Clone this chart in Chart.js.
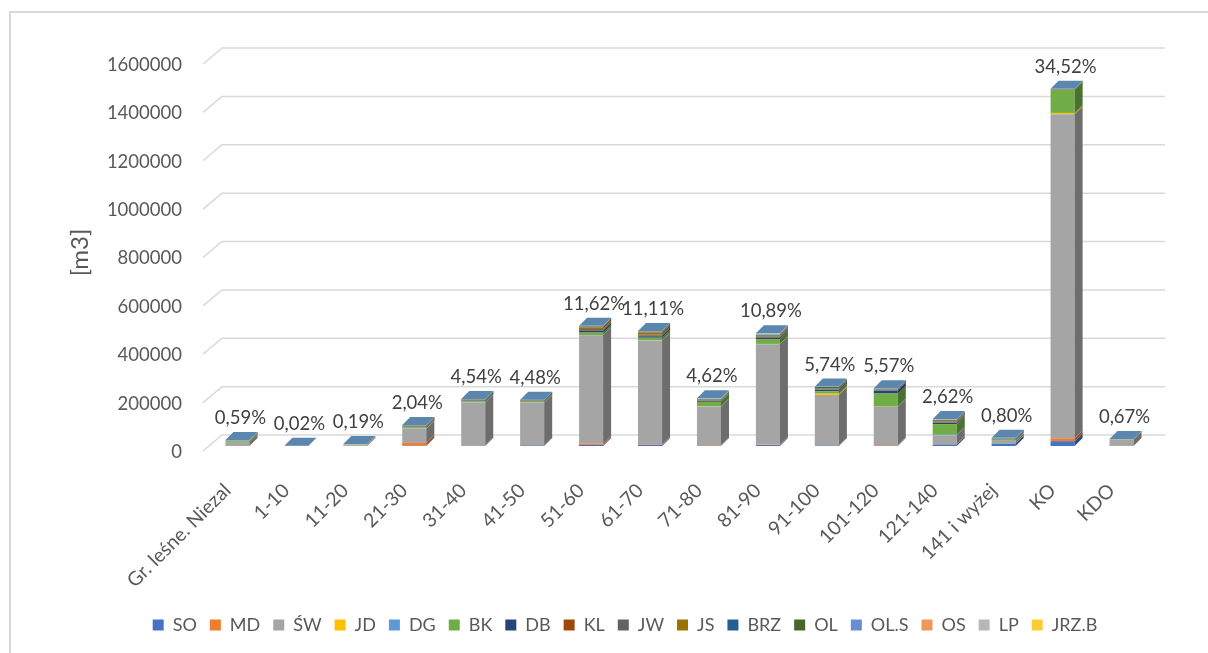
<!DOCTYPE html>
<html>
<head>
<meta charset="utf-8">
<title>Miąższość wg klas wieku</title>
<script src="https://cdn.jsdelivr.net/npm/chart.js@4.4.1/dist/chart.umd.min.js"></script>
<style>
    html, body { margin: 0; padding: 0; background: #fff; overflow: hidden; }
    .wrap { position: relative; width: 1208px; height: 653px; }
    .ramka { position: absolute; left: 9px; top: 11px; width: 1400px; height: 900px;
             border: 2px solid #D9D9D9; pointer-events: none; }
</style>
</head>
<body>
<div class="wrap">
    <canvas id="wykres"></canvas>
    <div class="ramka"></div>
</div>

<script>
    var kategorie = ['Gr. leśne. Niezal', '1-10', '11-20', '21-30', '31-40', '41-50', '51-60', '61-70',
        '71-80', '81-90', '91-100', '101-120', '121-140', '141 i wyżej', 'KO', 'KDO'];

    // miąższość [m3] wg gatunków
    var SO  = [300, 200, 300, 800, 1500, 2500, 4500, 4500, 1000, 4000, 2000, 1000, 6000, 10000, 20000, 300];
    var MD  = [200, 0, 600, 12000, 1500, 1000, 6000, 2000, 2500, 2000, 500, 3000, 2000, 1000, 12000, 200];
    var SW  = [13000, 400, 4500, 59000, 176500, 176000, 447000, 430000, 160000, 415000, 208000, 158000, 35000, 10000, 1340000, 25000];
    var JD  = [0, 0, 0, 300, 500, 500, 800, 600, 500, 1000, 6000, 800, 500, 200, 5000, 0];
    var DG  = [0, 0, 0, 0, 0, 0, 500, 500, 0, 0, 0, 0, 3000, 500, 0, 0];
    var BK  = [6000, 200, 1500, 5000, 5000, 4000, 10000, 10000, 18000, 20000, 10000, 54000, 44000, 5000, 95000, 2000];
    var DB  = [1000, 0, 300, 3000, 3000, 3000, 8000, 6000, 3000, 6000, 6000, 12000, 5000, 2500, 1000, 200];
    var KL  = [200, 0, 100, 1200, 500, 500, 3000, 4000, 1000, 2000, 1000, 1000, 2000, 300, 500, 100];
    var JW  = [300, 0, 100, 1000, 1000, 500, 4000, 3000, 1500, 2000, 1500, 3000, 2000, 300, 500, 100];
    var JS  = [200, 0, 0, 1000, 1500, 2000, 7000, 8000, 3000, 3000, 2000, 1000, 3000, 300, 500, 0];
    var BRZ = [500, 0, 100, 1000, 1000, 500, 2000, 2000, 1000, 2000, 3000, 1000, 1500, 1000, 500, 200];
    var OL  = [800, 0, 200, 1000, 1300, 500, 2000, 2500, 2000, 3000, 4000, 2500, 3000, 1000, 500, 200];
    var OLS = [200, 20, 100, 300, 200, 200, 400, 300, 200, 300, 300, 300, 300, 100, 300, 100];
    var OS  = [100, 0, 100, 300, 200, 200, 400, 300, 200, 300, 300, 300, 300, 100, 300, 0];
    var LP  = [2000, 40, 230, 1000, 300, 300, 900, 1500, 3600, 5000, 800, 400, 4200, 1800, 400, 300];
    var JRZ = [450, 0, 0, 400, 300, 0, 700, 200, 200, 400, 200, 0, 300, 100, 600, 0];

    var udzialy = ['0,59%', '0,02%', '0,19%', '2,04%', '4,54%', '4,48%', '11,62%', '11,11%',
        '4,62%', '10,89%', '5,74%', '5,57%', '2,62%', '0,80%', '34,52%', '0,67%'];

    var yTicki = [0, 200000, 400000, 600000, 800000, 1000000, 1200000, 1400000, 1600000];

    var serie = [
        ['SO', SO, '#4472C4'], ['MD', MD, '#ED7D31'], ['ŚW', SW, '#A5A5A5'], ['JD', JD, '#FFC000'],
        ['DG', DG, '#5B9BD5'], ['BK', BK, '#70AD47'], ['DB', DB, '#264478'], ['KL', KL, '#9E480E'],
        ['JW', JW, '#636363'], ['JS', JS, '#997300'], ['BRZ', BRZ, '#255E91'], ['OL', OL, '#43682B'],
        ['OL.S', OLS, '#698ED0'], ['OS', OS, '#F1975A'], ['LP', LP, '#B7B7B7'], ['JRZ.B', JRZ, '#FFCD33']
    ];

    var glebia = 8;

    function ciemniej(hex, f) {
        var r = parseInt(hex.substr(1, 2), 16), g = parseInt(hex.substr(3, 2), 16), b = parseInt(hex.substr(5, 2), 16);
        return 'rgb(' + Math.round(r * f) + ',' + Math.round(g * f) + ',' + Math.round(b * f) + ')';
    }

    // siatka "3D" + boki i wierzch słupków + etykiety procentowe
    var kostki = {
        id: 'kostki',
        beforeDatasetsDraw: function (chart) {
            var ctx = chart.ctx, a = chart.chartArea, y = chart.scales.y;
            ctx.save();
            ctx.strokeStyle = '#D9D9D9';
            ctx.lineWidth = 1.5;
            y.ticks.forEach(function (t) {
                var py = y.getPixelForValue(t.value);
                ctx.beginPath();
                ctx.moveTo(a.left - 5, py + 5);
                ctx.lineTo(a.left + 14, py - 11);
                ctx.lineTo(a.right + 14, py - 11);
                ctx.stroke();
            });
            ctx.restore();
        },
        afterDatasetsDraw: function (chart) {
            var ctx = chart.ctx;
            ctx.save();
            for (var i = 0; i < kategorie.length; i++) {
                var wierzch = null;
                chart.data.datasets.forEach(function (ds, d) {
                    var meta = chart.getDatasetMeta(d);
                    if (!meta.visible) return;
                    var el = meta.data[i];
                    var p = el.getProps(['x', 'y', 'base', 'width'], true);
                    var x1 = p.x - p.width / 2, x2 = p.x + p.width / 2;
                    if (Math.abs(p.base - p.y) > 0.05) {
                        ctx.fillStyle = ciemniej(ds.backgroundColor, 0.66);
                        ctx.beginPath();
                        ctx.moveTo(x2, p.y);
                        ctx.lineTo(x2 + glebia, p.y - glebia);
                        ctx.lineTo(x2 + glebia, p.base - glebia);
                        ctx.lineTo(x2, p.base);
                        ctx.closePath();
                        ctx.fill();
                    }
                    if (!wierzch || p.y < wierzch.y) wierzch = { x1: x1, x2: x2, y: p.y, x: p.x };
                });
                if (!wierzch) continue;
                ctx.fillStyle = '#5B86AE';
                ctx.beginPath();
                ctx.moveTo(wierzch.x1, wierzch.y);
                ctx.lineTo(wierzch.x2, wierzch.y);
                ctx.lineTo(wierzch.x2 + glebia, wierzch.y - glebia);
                ctx.lineTo(wierzch.x1 + glebia, wierzch.y - glebia);
                ctx.closePath();
                ctx.fill();

                ctx.fillStyle = '#404040';
                ctx.font = '18.5px Lato';
                ctx.textAlign = 'center';
                ctx.textBaseline = 'middle';
                ctx.fillText(udzialy[i], wierzch.x + 3, wierzch.y - 22);
            }
            ctx.restore();
        }
    };

    var ctx = document.getElementById('wykres').getContext('2d');
    var wykres = new Chart(ctx, {
        type: 'bar',
        data: {
            labels: kategorie,
            datasets: serie.map(function (s) {
                return {
                    label: s[0],
                    data: s[1],
                    backgroundColor: s[2],
                    borderWidth: 0,
                    categoryPercentage: 1,
                    barPercentage: 0.408
                };
            })
        },
        options: {
            responsive: true,
            maintainAspectRatio: false,
            animation: false,
            layout: { padding: { left: 42, right: 0, top: 59, bottom: 9 } },
            plugins: {
                legend: {
                    position: 'bottom',
                    labels: {
                        boxWidth: 11,
                        boxHeight: 11,
                        padding: 13,
                        color: '#595959',
                        font: { family: 'Lato', size: 18 }
                    }
                },
                tooltip: { enabled: false }
            },
            scales: {
                x: {
                    stacked: true,
                    grid: { display: false, drawTicks: false },
                    border: { display: false },
                    ticks: {
                        color: '#595959',
                        font: { family: 'Lato', size: 19.5 },
                        minRotation: 45,
                        maxRotation: 45,
                        autoSkip: false,
                        padding: 33,
                        labelOffset: -10
                    },
                    afterFit: function (s) { s.height = 157; }
                },
                y: {
                    stacked: true,
                    min: 0,
                    max: 1600000,
                    grid: { display: false, drawTicks: false },
                    border: { display: false },
                    afterBuildTicks: function (s) {
                        s.ticks = yTicki.map(function (v) { return { value: v }; });
                    },
                    ticks: {
                        color: '#595959',
                        font: { family: 'Lato', size: 18.5 },
                        padding: 26,
                        labelOffset: 6,
                        callback: function (v) { return String(v); }
                    },
                    title: {
                        display: true,
                        text: '[m3]',
                        color: '#595959',
                        font: { family: 'Lato', size: 24 },
                        padding: { top: 24, bottom: 0 }
                    },
                    afterFit: function (s) { s.width = 166; }
                },
                prawa: {
                    position: 'right',
                    min: 0,
                    max: 1,
                    grid: { display: false, drawTicks: false },
                    border: { display: false },
                    ticks: { display: false },
                    afterFit: function (s) { s.width = 57; }
                }
            }
        },
        plugins: [kostki]
    });
</script>
</body>
</html>
